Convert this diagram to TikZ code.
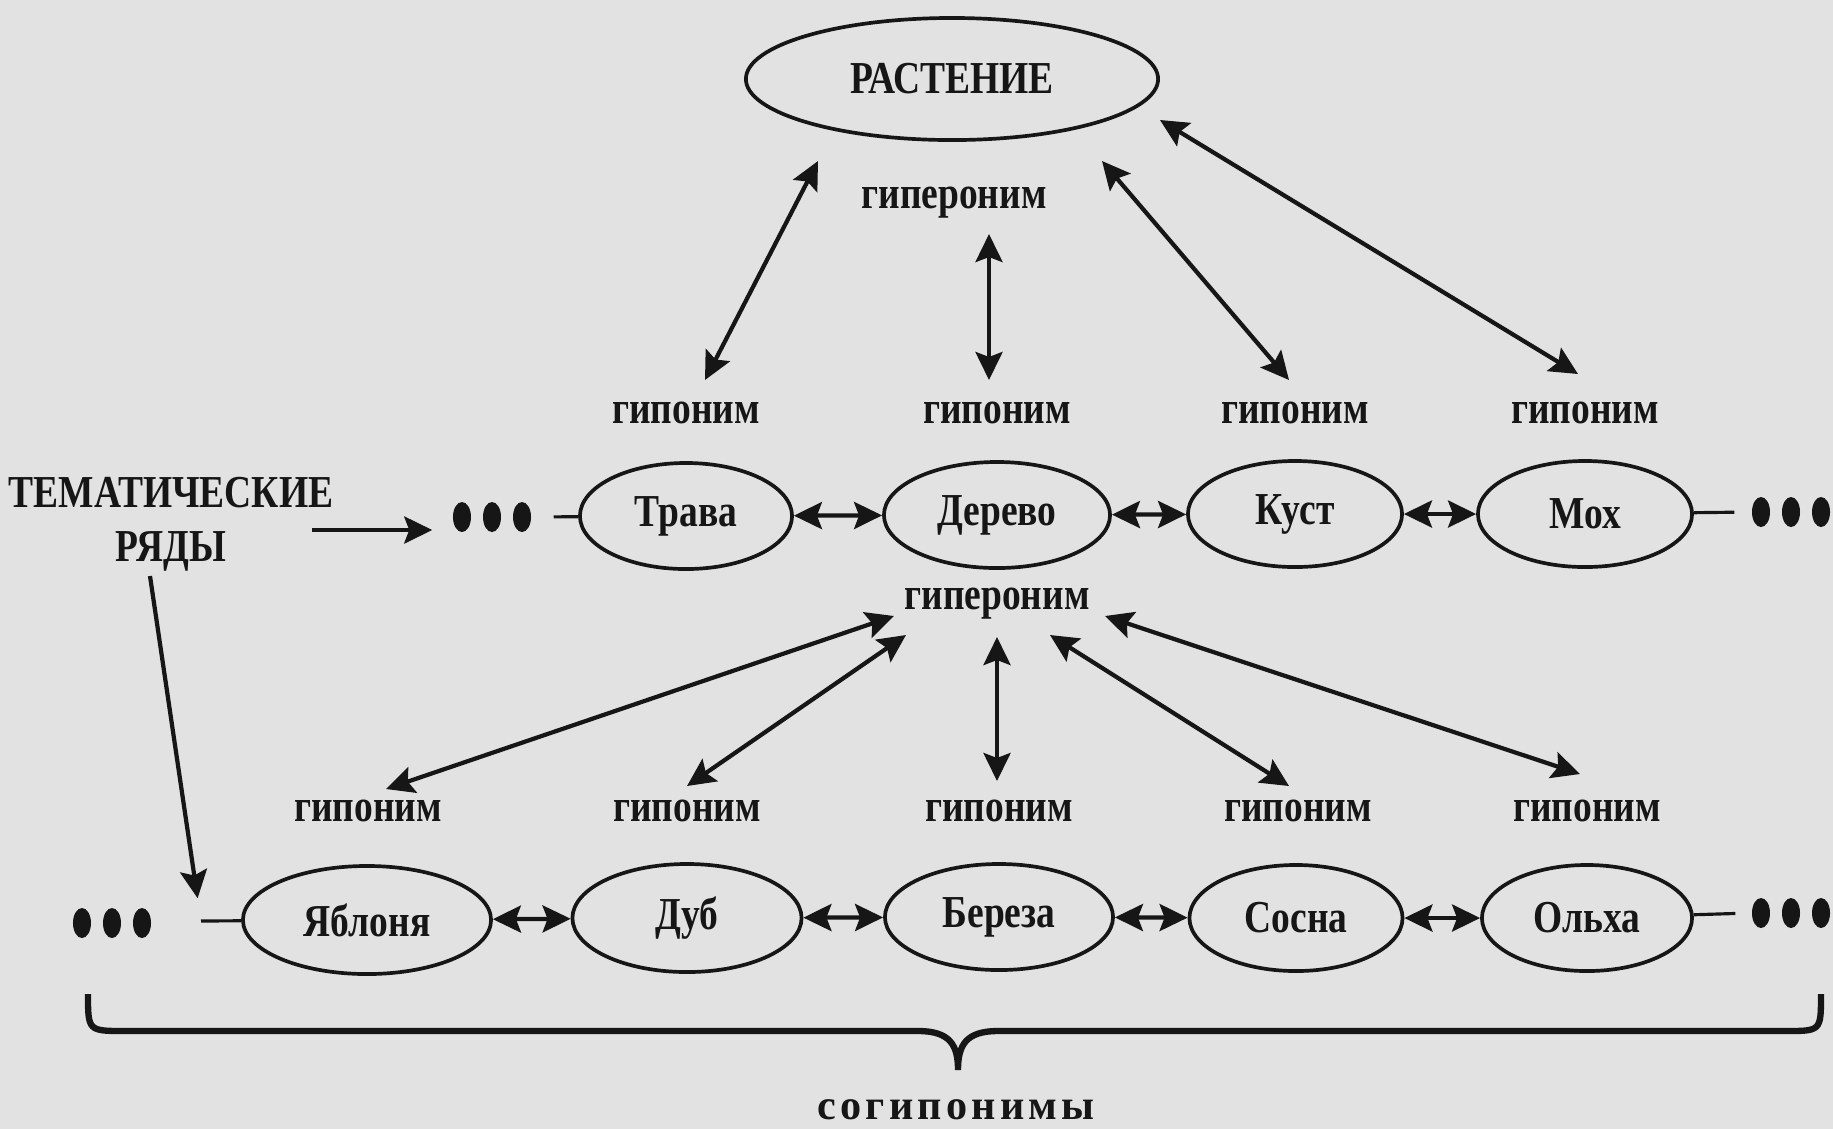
\documentclass[tikz,border=0pt]{standalone}
\usepackage{fontspec}
\setmainfont{Liberation Serif}[FakeStretch=0.82]
\newfontfamily\spacedfont{Liberation Serif}[LetterSpace=10]
\usetikzlibrary{arrows.meta,calc,shapes.geometric}

\definecolor{paper}{RGB}{226,226,226}
\definecolor{ink}{RGB}{22,22,22}

\tikzset{
  word/.style={ellipse,draw=ink,line width=1.05pt,inner sep=0pt,minimum width=2.14cm,minimum height=1.06cm},
  lbl/.style={inner sep=1pt},
  tripledot/.style={minimum width=0.8cm,minimum height=0.32cm,inner sep=0pt},
  dbl/.style={{Stealth[length=0.28cm,width=0.27cm,inset=0.05cm]}-{Stealth[length=0.28cm,width=0.27cm,inset=0.05cm]},line width=1.2pt,draw=ink},
  one/.style={-{Stealth[length=0.28cm,width=0.27cm,inset=0.05cm]},line width=1.2pt,draw=ink},
  tail/.style={line width=0.9pt,draw=ink}
}

\begin{document}
\begin{tikzpicture}[x=0.01cm,y=-0.01cm,font=\fontsize{13}{15.3}\selectfont\bfseries,text=ink]
    \useasboundingbox (0,0) rectangle (1833,1129);
    \fill[paper] (0,0) rectangle (1833,1129);

    % top
    \node[word,minimum width=4.12cm,minimum height=1.22cm] (rast) at (952,79) {РАСТЕНИЕ};
    \node[lbl] (hyper1) at (954,203) {гипероним};

    % upper row
    \node[lbl] (hypo1) at (686,413) {гипоним};
    \node[lbl] (hypo2) at (997,413) {гипоним};
    \node[lbl] (hypo3) at (1295,413) {гипоним};
    \node[lbl] (hypo4) at (1585,413) {гипоним};
    \node[word,minimum width=2.12cm] (trava) at (686,516) {Трава};
    \node[word,minimum width=2.26cm] (derevo) at (997,515) {Дерево};
    \node[word] (kust) at (1295,514) {Куст};
    \node[word] (moh) at (1585,514) {Мох};
    \node[tripledot] (dotsA) at (492,517) {};
    \node[tripledot] (dotsB) at (1791,512) {};

    % lower row
    \node[lbl] (hyper2) at (997,604) {гипероним};
    \node[lbl] (hypo5) at (368,811) {гипоним};
    \node[lbl] (hypo6) at (687,811) {гипоним};
    \node[lbl] (hypo7) at (999,811) {гипоним};
    \node[lbl] (hypo8) at (1298,811) {гипоним};
    \node[lbl] (hypo9) at (1587,811) {гипоним};
    \node[word,minimum width=2.48cm,minimum height=1.08cm] (yablonya) at (367,920) {Яблоня};
    \node[word,minimum width=2.29cm,minimum height=1.08cm] (dub) at (687,918) {Дуб};
    \node[word,minimum width=2.28cm] (bereza) at (999,917) {Береза};
    \node[word,minimum width=2.13cm] (sosna) at (1296,918) {Сосна};
    \node[word,minimum width=2.10cm] (olha) at (1587,918) {Ольха};
    \node[tripledot] (dotsC) at (112,923) {};
    \node[tripledot] (dotsD) at (1791,913) {};
    \coordinate (dashC) at (201,921);

    \node[inner sep=0pt,align=center] (tema) at (171,524) {ТЕМАТИЧЕСКИЕ\\РЯДЫ};
    \coordinate (temaOut) at ($(tema)+(141,6)$);

    % the dots
    \foreach \n in {dotsA,dotsB,dotsC,dotsD}
      \foreach \k in {-1,0,1}
        \fill[ink] ([xshift=\k*0.3cm]\n.center) ellipse [x radius=0.09cm, y radius=0.15cm];

    % hyperonym - hyponym arrows
    \draw[dbl] ($(hyper1)+(-136,-42)$) -- ($(hypo1)+(19,-33)$);
    \draw[dbl] ($(hyper1)+(35,31)$) -- ($(hypo2)+(-8,-33)$);
    \draw[dbl] ($(hyper1)+(148,-42)$) -- ($(hypo3)+(-6,-33)$);
    \draw[dbl] ($(rast)+(208,41)$) -- ($(hypo4)+(-7,-39)$);

    \draw[dbl] ($(hyper2)+(-103,12)$) -- ($(hypo5)+(18,-22)$);
    \draw[dbl] ($(hyper2)+(-91,31)$) -- ($(hypo6)+(0,-25)$);
    \draw[dbl] ($(hyper2)+(0,33)$) -- ($(hypo7)+(-2,-30)$);
    \draw[dbl] ($(hyper2)+(53,31)$) -- ($(hypo8)+(-9,-25)$);
    \draw[dbl] ($(hyper2)+(108,12)$) -- ($(hypo9)+(-7,-37)$);

    % along the rows
    \draw[dbl] (trava) -- (derevo);
    \draw[dbl] (derevo) -- (kust);
    \draw[dbl] (kust) -- (moh);
    \draw[dbl] (yablonya) -- (dub);
    \draw[dbl] (dub) -- (bereza);
    \draw[dbl] (bereza) -- (sosna);
    \draw[dbl] (sosna) -- (olha);

    \draw[tail,shorten <=0.21cm] (dotsA.east) -- (trava);
    \draw[tail,shorten >=0.16cm] (moh) -- (dotsB.west);
    \draw[tail] (dashC) -- (yablonya);
    \draw[tail,shorten >=0.15cm] (olha) -- (dotsD.west);

    % thematic rows
    \draw[one,shorten >=0.19cm] (temaOut) -- (temaOut -| dotsA.west);
    \draw[one,shorten >=0.23cm] ($(tema)+(-21,52)$) -- (dashC);

    % brace
    \draw[ink,line width=1.8pt] (88,994) .. controls (88,1031) .. (125,1031) -- (918,1031)
        .. controls (950,1031) and (958,1045) .. (958,1070)
        .. controls (958,1045) and (966,1031) .. (998,1031) -- (1786,1031)
        .. controls (1821,1031) .. (1821,994);
    \node[inner sep=0pt,font=\fontsize{12}{14}\selectfont\spacedfont\bfseries] (sogip) at (956,1110) {согипонимы};
\end{tikzpicture}
\end{document}
